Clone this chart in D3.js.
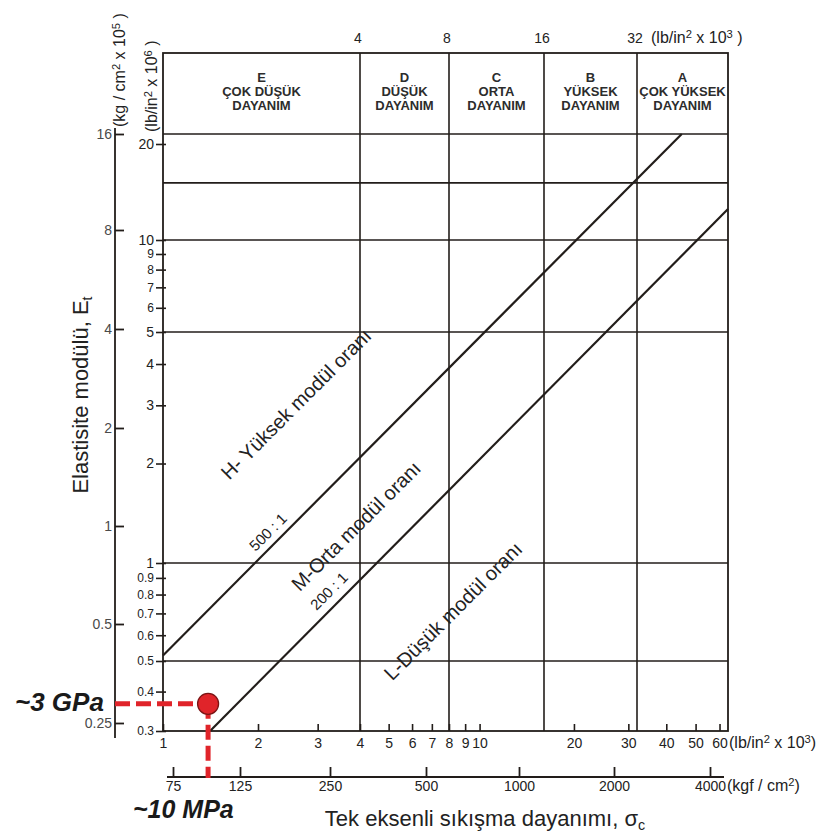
<!DOCTYPE html>
<html><head><meta charset="utf-8">
<script src="https://cdn.jsdelivr.net/npm/d3@7"></script>
<style>
body{margin:0;background:#fff}
svg{display:block}
text{font-family:"Liberation Sans",Arial,Helvetica,sans-serif}
</style>
</head><body>
<svg id="c" width="819" height="834"></svg>
<script>
// ---------- data ----------
const classBounds = [1, 4, 8, 16, 32, 64];           // lb/in² x 10³
const classCodes  = ["E", "D", "C", "B", "A"];
const classNames  = [["ÇOK DÜŞÜK","DAYANIM"],["DÜŞÜK","DAYANIM"],["ORTA","DAYANIM"],["YÜKSEK","DAYANIM"],["ÇOK YÜKSEK","DAYANIM"]];
const topTicks    = [4, 8, 16, 32];
const ksiTicks    = [1, 2, 3, 4, 5, 6, 7, 8, 9, 10, 20, 30, 40, 50, 60];
const kgfTicks    = [75, 125, 250, 500, 1000, 2000, 4000];
const eTicks      = [0.3, 0.4, 0.5, 0.6, 0.7, 0.8, 0.9, 1, 2, 3, 4, 5, 6, 7, 8, 9, 10, 20]; // lb/in² x 10⁶
const eSmall      = [0.3, 0.4, 0.5, 0.6, 0.7, 0.8, 0.9, 6, 7, 8, 9];
const outerTicks  = [0.25, 0.5, 1, 2, 4, 8, 16];      // kg/cm² x 10⁵
const hGrid       = [0.5, 1, 5, 10, 15.1, 21.5];       // lb/in² x 10⁶
const ratioLabels = ["500 : 1", "200 : 1"];
const lineNames   = ["H- Yüksek modül oranı", "M-Orta modül oranı", "L-Düşük modül oranı"];
const lineH       = [[1, 0.52], [45, 21.5]];           // [ksi, E (psi x10^6)]
const lineM       = [[1.41, 0.3], [64, 12.5]];
const samplePoint = {kgf: 98, kgcm: 0.286};            // ~10 MPa, ~3 GPa
const sampleLabels = ["~3 GPa", "~10 MPa"];

(function () {
// ---------- scales (hand-drawn chart: piecewise log) ----------
const x  = d3.scaleLog().domain([1, 2, 4, 8, 16, 32, 64]).range([163, 258, 360, 449, 544, 637, 728]);
const y  = d3.scaleLog().domain([0.3, 0.5, 1, 5, 10, 20]).range([731, 661, 563, 332, 240, 144]);
const yO = d3.scaleLog().domain([0.25, 0.5, 1, 2, 4, 8, 16]).range([723, 624, 526, 428, 329, 230, 134]);
const xK = d3.scaleLog().domain([75, 125, 250, 500, 1000, 2000, 4000]).range([173, 240, 330, 426, 519, 614, 710]);

const INK = "#221d1a", TXT = "#222";
const svg = d3.select("#c");
const pL = x(1), pR = x(64), pB = y(0.3), pT = 53, outerX = 115;

function richText(sel, parts) {
  parts.forEach(p => {
    const t = sel.append("tspan").text(p[0]);
    if (p[1]) t.attr("baseline-shift", "45%").attr("font-size", "0.7em");
    else if (p[2]) t.attr("baseline-shift", "-25%").attr("font-size", "0.65em");
  });
  return sel;
}

// ---------- grid ----------
const grid = svg.append("g").attr("stroke", INK).attr("fill", "none");
grid.selectAll("line.h").data(hGrid).join("line").attr("class", "h")
  .attr("x1", pL).attr("x2", pR).attr("y1", d => y(d)).attr("y2", d => y(d)).attr("stroke-width", 1.6);
grid.selectAll("line.v").data(classBounds.slice(1, -1)).join("line").attr("class", "v")
  .attr("x1", d => x(d)).attr("x2", d => x(d)).attr("y1", pT).attr("y2", pB).attr("stroke-width", 1.6);
grid.append("rect").attr("x", pL).attr("y", pT).attr("width", pR - pL).attr("height", pB - pT).attr("stroke-width", 1.8);

// ---------- header classes ----------
classCodes.forEach((c, i) => {
  const cx = (x(classBounds[i]) + x(classBounds[i + 1])) / 2;
  [c].concat(classNames[i]).forEach((t, k) => {
    svg.append("text").attr("x", cx).attr("y", 82 + k * 14).attr("text-anchor", "middle")
      .attr("font-size", 13).attr("font-weight", "bold").attr("fill", "#2c2c2c").text(t);
  });
});

// top tick labels
svg.selectAll("text.top").data(topTicks).join("text").attr("class", "top")
  .attr("x", d => x(d) - 2).attr("y", 43).attr("text-anchor", "middle").attr("font-size", 14).attr("fill", TXT).text(d => d);
richText(svg.append("text").attr("x", 651).attr("y", 43).attr("font-size", 16).attr("fill", TXT),
  [["(lb/in"], ["2", 1], [" x 10"], ["3", 1], [" )"]]);

// ---------- ratio lines ----------
const line = d3.line().x(d => x(d[0])).y(d => y(d[1]));
[lineH, lineM].forEach(l => svg.append("path").attr("d", line(l)).attr("fill", "none").attr("stroke", INK).attr("stroke-width", 2.2));

// diagonal labels
const diag = [
  {t: lineNames[0], cx: 296, cy: 404, fs: 20},
  {t: lineNames[1], cx: 356, cy: 526, fs: 20},
  {t: lineNames[2], cx: 453, cy: 611, fs: 20},
  {t: ratioLabels[0], cx: 268, cy: 532, fs: 15},
  {t: ratioLabels[1], cx: 329, cy: 591, fs: 15}
];
diag.forEach(d => svg.append("text").attr("transform", `translate(${d.cx},${d.cy}) rotate(-45)`)
  .attr("text-anchor", "middle").attr("dy", "0.35em").attr("font-size", d.fs).attr("fill", TXT).text(d.t));

// ---------- inner left axis (lb/in² x 10⁶) ----------
const gY = svg.append("g").attr("transform", `translate(${pL},0)`)
  .call(d3.axisLeft(y).tickValues(eTicks).tickFormat(d => d).tickSizeOuter(0));
gY.select(".domain").remove();
gY.selectAll(".tick line").attr("x1", -7).attr("x2", 3).attr("stroke", INK).attr("stroke-width", 1.6);
gY.selectAll(".tick text").attr("x", -9).attr("fill", TXT).attr("font-family", null)
  .attr("font-size", d => eSmall.includes(d) ? 12 : 14);

// ---------- outer left axis (kg/cm² x 10⁵) ----------
svg.append("line").attr("x1", outerX).attr("x2", outerX).attr("y1", 128).attr("y2", 738).attr("stroke", INK).attr("stroke-width", 1.8);
const gO = svg.append("g").attr("transform", `translate(${outerX},0)`)
  .call(d3.axisRight(yO).tickValues(outerTicks).tickFormat(d => d).tickSizeOuter(0).tickSize(9));
gO.select(".domain").remove();
gO.selectAll(".tick line").attr("stroke", INK).attr("stroke-width", 1.8);
gO.selectAll(".tick text").attr("x", -3).attr("text-anchor", "end").attr("fill", "#4a4a4a")
  .attr("font-family", null).attr("font-size", 14);

// rotated unit labels
richText(svg.append("text").attr("transform", "translate(125,127) rotate(-90)").attr("font-size", 16).attr("fill", TXT),
  [["(kg / cm"], ["2", 1], [" x 10"], ["5", 1], [" )"]]);
richText(svg.append("text").attr("transform", "translate(157,132) rotate(-90)").attr("font-size", 16).attr("fill", TXT),
  [["(lb/in"], ["2", 1], [" x 10"], ["6", 1], [" )"]]);

// ---------- bottom ksi axis ----------
const gX = svg.append("g").attr("transform", `translate(0,${pB})`)
  .call(d3.axisBottom(x).tickValues(ksiTicks).tickFormat(d => d).tickSizeOuter(0).tickSizeInner(-7));
gX.select(".domain").remove();
gX.selectAll(".tick line").attr("stroke", INK).attr("stroke-width", 1.6);
gX.selectAll(".tick text").attr("y", 17).attr("dy", null).attr("fill", TXT).attr("font-family", null).attr("font-size", 14);
richText(svg.append("text").attr("x", 729).attr("y", 748).attr("font-size", 16).attr("fill", TXT),
  [["(lb/in"], ["2", 1], [" x 10"], ["3", 1], [")"]]);

// ---------- kgf/cm² axis ----------
const kgfY = 777;
svg.append("line").attr("x1", 167).attr("x2", 724).attr("y1", kgfY).attr("y2", kgfY).attr("stroke", INK).attr("stroke-width", 1.8);
const gK = svg.append("g").attr("transform", `translate(0,${kgfY})`)
  .call(d3.axisBottom(xK).tickValues(kgfTicks).tickFormat(d => d).tickSizeOuter(0).tickSizeInner(-10));
gK.select(".domain").remove();
gK.selectAll(".tick line").attr("stroke", INK).attr("stroke-width", 1.8);
gK.selectAll(".tick text").attr("y", 14).attr("dy", null).attr("fill", TXT).attr("font-family", null).attr("font-size", 14);
richText(svg.append("text").attr("x", 727).attr("y", 791).attr("font-size", 16).attr("fill", TXT),
  [["(kgf / cm"], ["2", 1], [")"]]);

// ---------- axis titles ----------
richText(svg.append("text").attr("x", 485).attr("y", 826).attr("text-anchor", "middle").attr("font-size", 22).attr("fill", TXT),
  [["Tek eksenli sıkışma dayanımı, σ"], ["c", 0, 1]]);
richText(svg.append("text").attr("transform", "translate(88,395) rotate(-90)").attr("text-anchor", "middle").attr("font-size", 22).attr("fill", TXT),
  [["Elastisite modülü, E"], ["t", 0, 1]]);

// ---------- sample point ----------
const RED = "#e0242a";
const px = xK(samplePoint.kgf), py = yO(samplePoint.kgcm);
svg.append("line").attr("x1", outerX).attr("x2", px).attr("y1", py).attr("y2", py)
  .attr("stroke", RED).attr("stroke-width", 5).attr("stroke-dasharray", "15,6");
svg.append("line").attr("x1", px).attr("x2", px).attr("y1", py).attr("y2", kgfY + 1)
  .attr("stroke", RED).attr("stroke-width", 5).attr("stroke-dasharray", "15,6");
svg.append("circle").attr("cx", px).attr("cy", py).attr("r", 10.5).attr("fill", RED).attr("stroke", "#7a1414").attr("stroke-width", 1.3);
svg.append("text").attr("x", 15).attr("y", 711).attr("font-size", 26).attr("font-weight", "bold").attr("font-style", "italic").attr("fill", "#1a1a1a").text(sampleLabels[0]);
svg.append("text").attr("x", 133).attr("y", 818).attr("font-size", 25).attr("font-weight", "bold").attr("font-style", "italic").attr("fill", "#1a1a1a").text(sampleLabels[1]);
})();
</script>
</body></html>
